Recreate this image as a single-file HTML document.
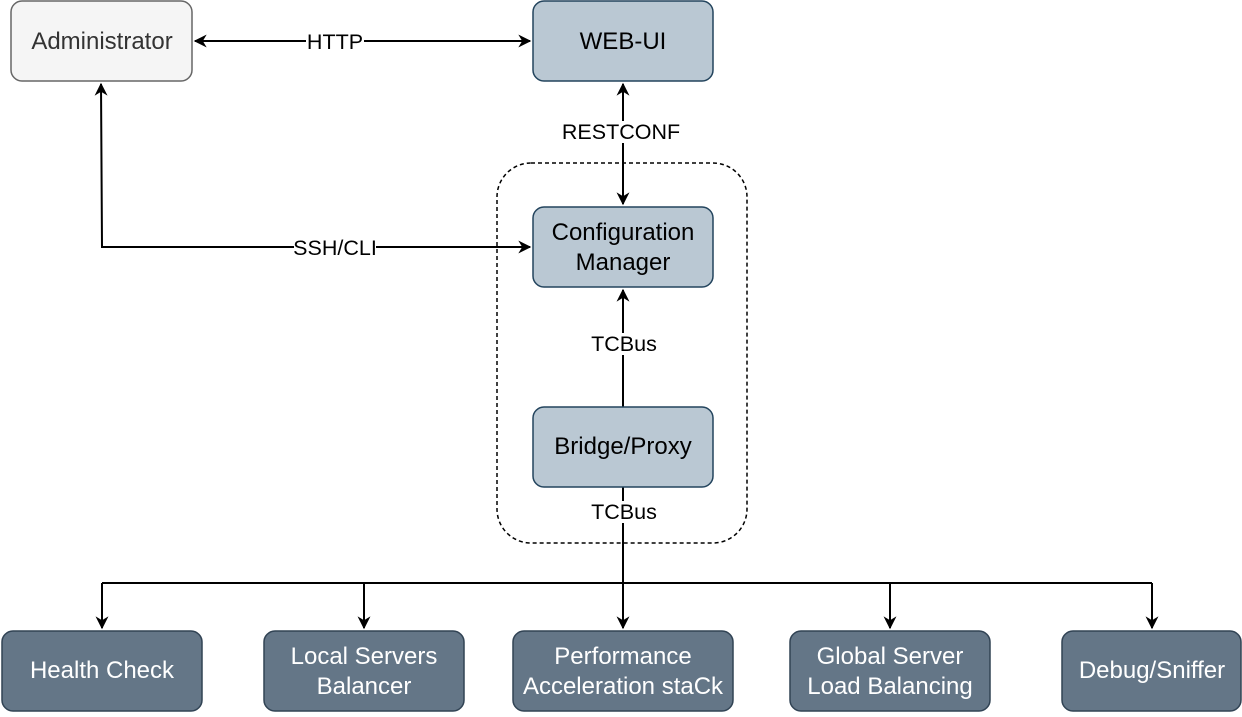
<!DOCTYPE html>
<html><head><meta charset="utf-8"><style>
html,body{margin:0;padding:0;background:#fff;}
svg text{font-family:"Liberation Sans",sans-serif;}
</style></head><body>
<svg width="1242" height="712" viewBox="0 0 1242 712" xmlns="http://www.w3.org/2000/svg">
<defs>
<marker id="a" viewBox="0 0 10 10" refX="9" refY="5" markerWidth="13" markerHeight="13" markerUnits="userSpaceOnUse" orient="auto-start-reverse">
<path d="M0,0 L10,5 L0,10 L3,5 Z" fill="#000"/>
</marker>
</defs>
<rect x="497" y="163" width="250" height="380" rx="34" fill="none" stroke="#000" stroke-width="1.5" stroke-dasharray="4,3"/>
<g stroke="#000" stroke-width="2" fill="none">
<line x1="195" y1="41" x2="530" y2="41" marker-start="url(#a)" marker-end="url(#a)"/>
<line x1="623" y1="84" x2="623" y2="204" marker-start="url(#a)" marker-end="url(#a)"/>
<polyline points="101,84 102,247 530,247" marker-start="url(#a)" marker-end="url(#a)"/>
<line x1="623" y1="407" x2="623" y2="290" marker-end="url(#a)"/>
<line x1="623" y1="487" x2="623" y2="628" marker-end="url(#a)"/>
<line x1="102" y1="583" x2="1152" y2="583"/>
<line x1="102" y1="583" x2="102" y2="628" marker-end="url(#a)"/>
<line x1="364" y1="583" x2="364" y2="628" marker-end="url(#a)"/>
<line x1="890" y1="583" x2="890" y2="628" marker-end="url(#a)"/>
<line x1="1152" y1="583" x2="1152" y2="628" marker-end="url(#a)"/>
</g>
<g font-size="21.5" text-anchor="middle" fill="#000">
<rect x="306" y="31" width="58" height="22" fill="#fff"/><text x="335" y="49">HTTP</text>
<rect x="561" y="121" width="120" height="22" fill="#fff"/><text x="621" y="139">RESTCONF</text>
<rect x="294" y="237" width="82" height="22" fill="#fff"/><text x="335" y="255">SSH/CLI</text>
<rect x="591" y="333" width="66" height="22" fill="#fff"/><text x="624" y="351">TCBus</text>
<rect x="591" y="501" width="66" height="22" fill="#fff"/><text x="624" y="519">TCBus</text>
</g>
<g stroke-width="1.5">
<rect x="11" y="1" width="181" height="80" rx="11" fill="#f5f5f5" stroke="#666"/>
<rect x="533" y="1" width="180" height="80" rx="11" fill="#bac8d3" stroke="#23445d"/>
<rect x="533" y="207" width="180" height="80" rx="11" fill="#bac8d3" stroke="#23445d"/>
<rect x="533" y="407" width="180" height="80" rx="11" fill="#bac8d3" stroke="#23445d"/>
<rect x="2" y="631" width="200" height="80" rx="11" fill="#647687" stroke="#314354"/>
<rect x="264" y="631" width="200" height="80" rx="11" fill="#647687" stroke="#314354"/>
<rect x="513" y="631" width="220" height="80" rx="11" fill="#647687" stroke="#314354"/>
<rect x="790" y="631" width="200" height="80" rx="11" fill="#647687" stroke="#314354"/>
<rect x="1062" y="631" width="179" height="80" rx="11" fill="#647687" stroke="#314354"/>
</g>
<g font-size="24" text-anchor="middle">
<text x="102" y="49" fill="#333">Administrator</text>
<text x="623" y="49" fill="#000">WEB-UI</text>
<text x="623" y="240" fill="#000">Configuration</text>
<text x="623" y="270" fill="#000">Manager</text>
<text x="623" y="454" fill="#000">Bridge/Proxy</text>
<g fill="#fff">
<text x="102" y="678">Health Check</text>
<text x="364" y="664">Local Servers</text>
<text x="364" y="694">Balancer</text>
<text x="623" y="664">Performance</text>
<text x="623" y="694">Acceleration staCk</text>
<text x="890" y="664">Global Server</text>
<text x="890" y="694">Load Balancing</text>
<text x="1152" y="678">Debug/Sniffer</text>
</g>
</g>
</svg>
</body></html>
